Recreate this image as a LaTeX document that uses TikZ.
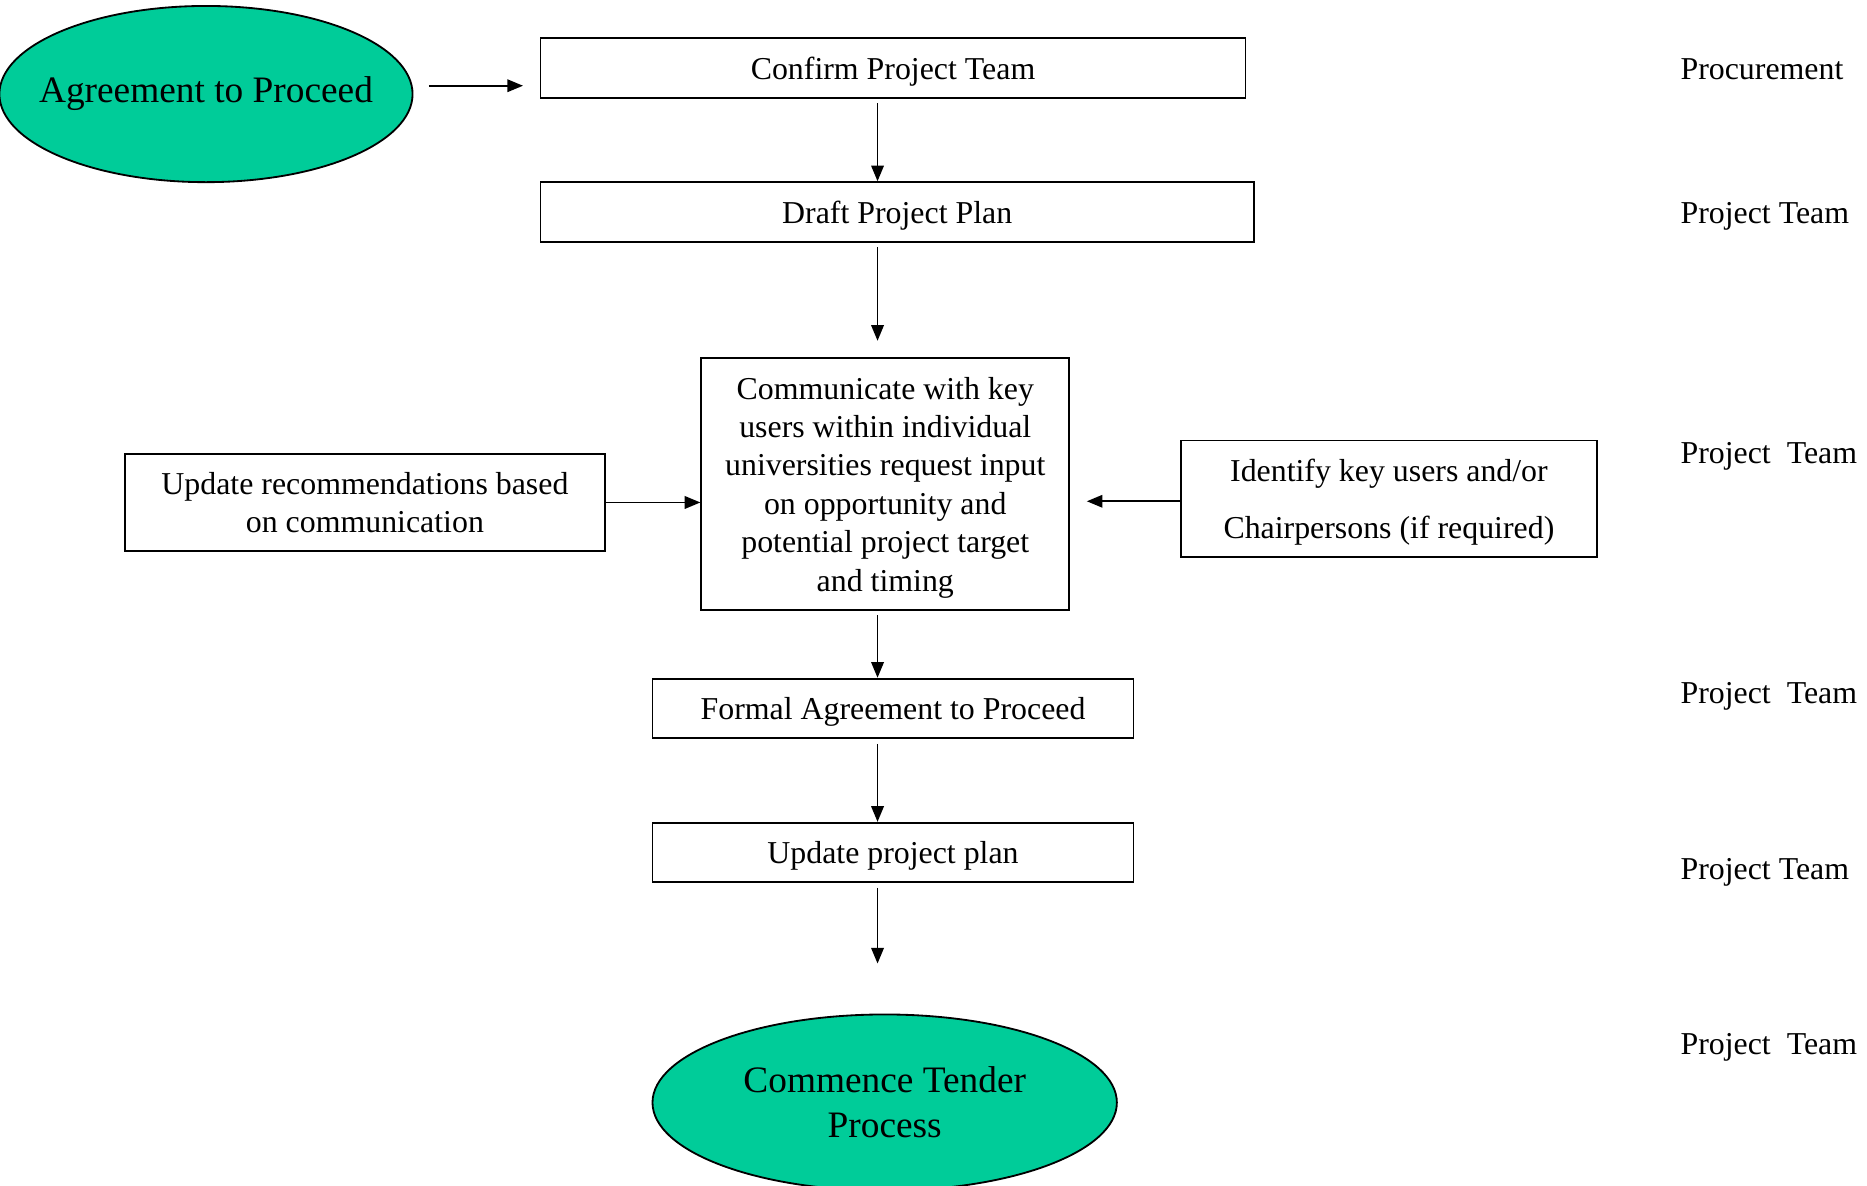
\documentclass[tikz,border=0pt]{standalone}
\usepackage{fontspec}
\setmainfont{Liberation Serif}
\usetikzlibrary{arrows.meta,shapes.geometric}
\definecolor{startgreen}{RGB}{0,204,153}
\newcommand{\pxu}{0.456pt}
\begin{document}
\begin{tikzpicture}[x=\pxu,y=-\pxu,
    every node/.style={font=\fontsize{12.2}{14.7}\selectfont},
    stepbox/.style={draw,line width=0.7pt,inner sep=0pt,align=center,text depth=0pt},
    terminal/.style={ellipse,draw,fill=startgreen,line width=0.7pt,inner sep=0pt,
      align=center,font=\fontsize{14.3}{17.3}\selectfont},
    role/.style={anchor=west,inner sep=0pt,text depth=0pt},
    flow/.style={-{Triangle[length=6pt,width=4.8pt]},line width=0.7pt}]
      \useasboundingbox (0,0) rectangle (1568,996);
      \coordinate (spine) at (737,0);
      \node[terminal,minimum width=347*\pxu,minimum height=148*\pxu] (agree) at (173,79) {\makebox[0pt]{Agreement to Proceed}};
      \node[stepbox,minimum width=592*\pxu,minimum height=50*\pxu] (confirm) at (750,57) {Confirm Project Team};
      \node[stepbox,minimum width=599*\pxu,minimum height=50*\pxu] (draft) at (753.5,178) {Draft Project Plan};
      \node[stepbox,minimum width=309*\pxu,minimum height=211*\pxu] (talk) at (743.5,406.5)
        {Communicate with key\\users within individual\\universities request input\\on opportunity and\\potential project target\\and timing};
      \node[stepbox,minimum width=403*\pxu,minimum height=82*\pxu] (revise) at (306.5,422)
        {Update recommendations based\\on communication};
      \node[stepbox,minimum width=349*\pxu,minimum height=98*\pxu] (identify) at (1166.5,419)
        {Identify key users and/or\\[7.2pt]Chairpersons (if required)};
      \node[stepbox,minimum width=404*\pxu,minimum height=50*\pxu] (formal) at (750,595) {Formal Agreement to Proceed};
      \node[stepbox,minimum width=404*\pxu,minimum height=50*\pxu] (replan) at (750,716) {Update project plan};
      \node[terminal,minimum width=390*\pxu,minimum height=148*\pxu] (tender) at (743,926) {Commence Tender\\Process};
      \node[role] (role1) at (1411,58) {Procurement};
      \node[role] (role2) at (1411,179) {Project Team};
      \node[role] (role3) at (1411,380) {Project\ \ Team};
      \node[role] (role4) at (1411,582) {Project\ \ Team};
      \node[role] (role5) at (1411,730) {Project Team};
      \node[role] (role6) at (1411,877) {Project\ \ Team};
      \begin{scope}[flow]
        \draw[shorten <=13*\pxu,shorten >=14*\pxu] ([yshift=7*\pxu]agree.east) to ([yshift=-15*\pxu]confirm.west);
        \draw[shorten <=4*\pxu] (confirm.south -| spine) to (draft.north -| spine);
        \draw[shorten <=4*\pxu,shorten >=14*\pxu] (draft.south -| spine) to (talk.north -| spine);
        \draw (revise.east) to (revise.east -| talk.west);
        \draw[shorten >=14*\pxu] ([yshift=-2*\pxu]identify.west) to ([yshift=-2*\pxu]identify.west -| talk.east);
        \draw[shorten <=4*\pxu] (talk.south -| spine) to (formal.north -| spine);
        \draw[shorten <=4*\pxu] (formal.south -| spine) to (replan.north -| spine);
        \draw[shorten <=4*\pxu,shorten >=42*\pxu] (replan.south -| spine) to (tender.north -| spine);
      \end{scope}
    \end{tikzpicture}
\end{document}
